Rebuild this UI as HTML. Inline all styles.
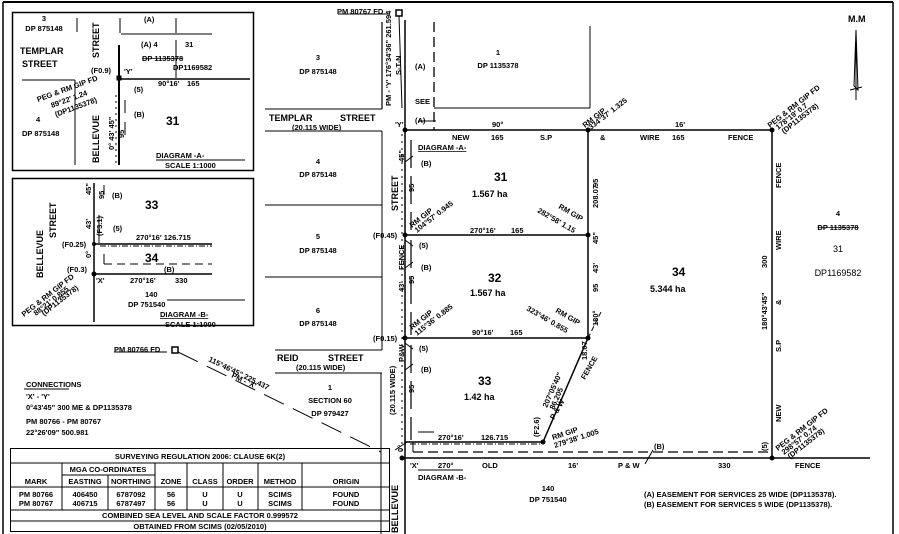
<!DOCTYPE html>
<html><head><meta charset="utf-8"><style>
body{margin:0;background:#fff}
svg{display:block}
text{font-family:"Liberation Sans",sans-serif;font-weight:bold;fill:#000}
.s{font-size:7.5px}
.m{font-size:9px}
.l{font-size:12px}
</style></head><body>
<svg width="899" height="534" viewBox="0 0 899 534" xmlns="http://www.w3.org/2000/svg">
<g stroke="#000" fill="none">
<line x1="3" y1="2" x2="893" y2="2" stroke-width="2"/>
<line x1="3" y1="2" x2="3" y2="534" stroke-width="1.5"/>
<line x1="893" y1="2" x2="893" y2="534" stroke-width="1.5"/>
<rect x="12.5" y="12.5" width="241" height="158" stroke-width="1.5"/>
<line x1="77" y1="18" x2="77" y2="32"/>
<line x1="22" y1="80" x2="75" y2="80"/>
<line x1="75" y1="80" x2="75" y2="165"/>
<line x1="120" y1="18" x2="120" y2="33"/>
<line x1="119" y1="45" x2="119" y2="165" stroke-width="2"/>
<line x1="121" y1="34" x2="212" y2="34"/>
<line x1="176" y1="18" x2="176" y2="33"/>
<line x1="176" y1="40" x2="176" y2="78"/>
<line x1="119" y1="79" x2="250" y2="79" stroke-width="1.5"/>
<line x1="125" y1="100" x2="125" y2="113"/>
<line x1="125" y1="122" x2="125" y2="135"/>
<line x1="116" y1="95" x2="116" y2="165" stroke-dasharray="2 4"/>
<rect x="117" y="76" width="4" height="4" fill="#000"/>
<rect x="12.5" y="178.5" width="241" height="147" stroke-width="1.5"/>
<line x1="94" y1="183" x2="94" y2="322" stroke-width="1.5"/>
<line x1="94" y1="244" x2="212" y2="244" stroke-width="1.5"/>
<line x1="100" y1="246" x2="212" y2="246" stroke-dasharray="6 2 1 2"/>
<line x1="94" y1="274" x2="212" y2="274" stroke-width="1.5"/>
<line x1="104" y1="264" x2="212" y2="264" stroke-dasharray="8 5"/>
<line x1="104" y1="254" x2="104" y2="264"/>
<line x1="104" y1="185" x2="104" y2="195"/>
<line x1="99" y1="215" x2="99" y2="243"/>
<circle cx="94" cy="274" r="2" fill="#000"/>
<circle cx="94" cy="244" r="1.5"/>
<line x1="382" y1="22" x2="382" y2="109" stroke-width="1.2"/>
<line x1="265" y1="109" x2="382" y2="109"/>
<line x1="265" y1="131" x2="382" y2="131"/>
<line x1="382" y1="131" x2="382" y2="350"/>
<line x1="265" y1="205" x2="382" y2="205"/>
<line x1="265" y1="277" x2="382" y2="277"/>
<line x1="275" y1="350" x2="382" y2="350"/>
<line x1="275" y1="373" x2="382" y2="373"/>
<line x1="381" y1="373" x2="381" y2="534"/>
<line x1="405" y1="20" x2="405" y2="534" stroke-width="1.5"/>
<line x1="402" y1="134" x2="402" y2="457" stroke-dasharray="2 5"/>
<line x1="434" y1="22" x2="434" y2="130" stroke-dasharray="10 5" stroke-width="1.3"/>
<line x1="434" y1="108" x2="590" y2="108"/>
<line x1="590" y1="26" x2="590" y2="108"/>
<line x1="405" y1="130" x2="772" y2="130" stroke-width="1.5"/>
<line x1="405" y1="235" x2="588" y2="235" stroke-width="1.5"/>
<line x1="405" y1="338" x2="588" y2="338" stroke-width="1.5"/>
<line x1="588" y1="130" x2="588" y2="338" stroke-width="1.5"/>
<line x1="588" y1="338" x2="543" y2="442" stroke-width="1.5"/>
<line x1="588" y1="338" x2="601" y2="312" stroke-dasharray="5 3"/>
<line x1="405" y1="442" x2="543" y2="442" stroke-width="1.5"/>
<line x1="410" y1="444" x2="540" y2="444" stroke-dasharray="6 2 1 2"/>
<line x1="772" y1="130" x2="772" y2="458" stroke-width="1.5"/>
<line x1="405" y1="458" x2="870" y2="458" stroke-width="1.5"/>
<line x1="413" y1="452" x2="768" y2="452" stroke-dasharray="10 5" stroke-width="1.2"/>
<line x1="413" y1="442" x2="413" y2="452"/>
<line x1="411" y1="140" x2="411" y2="230" stroke-dasharray="28 8" stroke-width="1.2"/>
<line x1="411" y1="240" x2="411" y2="335" stroke-dasharray="28 8" stroke-width="1.2"/>
<line x1="411" y1="345" x2="411" y2="440" stroke-dasharray="28 8" stroke-width="1.2"/>
<path d="M405 162 l8 -6 M405 268 l8 -6 M405 370 l8 -6 M405 240 l8 6 M405 343 l8 6 M645 464 l8 -14 M395 450 l12 -8"/>
<g fill="#000">
<circle cx="405" cy="130" r="2"/><circle cx="588" cy="130" r="2"/><circle cx="772" cy="130" r="2"/>
<circle cx="405" cy="235" r="2"/><circle cx="588" cy="235" r="2"/>
<circle cx="405" cy="338" r="2"/><circle cx="588" cy="338" r="2"/>
<circle cx="543" cy="442" r="2"/><circle cx="402" cy="458" r="2"/><circle cx="772" cy="458" r="2"/>
</g>
<rect x="396" y="10" width="6" height="6" stroke-width="1.5"/>
<rect x="172" y="347" width="6" height="6" stroke-width="1.5"/>
<line x1="178" y1="352" x2="381" y2="452" stroke-dasharray="22 10"/>
<line x1="399" y1="16" x2="402" y2="108"/>
<path d="M856 30 L858 90 L854 86 Z M856 30 V100 M850 90 l12 -3"/>
<rect x="10.5" y="448.5" width="379" height="83"/>
<line x1="10" y1="463" x2="390" y2="463"/>
<line x1="10" y1="487" x2="390" y2="487"/>
<line x1="10" y1="510" x2="390" y2="510"/>
<line x1="10" y1="521" x2="390" y2="521"/>
<line x1="62" y1="463" x2="62" y2="510"/>
<line x1="62" y1="475" x2="155" y2="475"/>
<line x1="108" y1="475" x2="108" y2="510"/>
<line x1="155" y1="463" x2="155" y2="510"/>
<line x1="187" y1="463" x2="187" y2="510"/>
<line x1="223" y1="463" x2="223" y2="510"/>
<line x1="258" y1="463" x2="258" y2="510"/>
<line x1="302" y1="463" x2="302" y2="510"/>
<path d="M114 352 H167 M338 14 H390 M24 389 H69 M156 160 H245 M167 300 H245 M418 121 H436 M418 432 H434 M418 470 H463"/>
</g>

<text class="s" x="44" y="21" text-anchor="middle">3</text>
<text class="s" x="44" y="31" text-anchor="middle">DP 875148</text>
<text class="m" x="20" y="54">TEMPLAR</text>
<text class="m" x="22" y="67">STREET</text>
<text class="m" transform="translate(99,58) rotate(-90)">STREET</text>
<text class="m" transform="translate(99,163) rotate(-90)">BELLEVUE</text>
<text class="s" x="144" y="22">(A)</text>
<text class="s" x="141" y="47">(A)  4</text>
<text class="s" x="185" y="47">31</text>
<text class="s" x="142" y="61" text-decoration="line-through">DP 1135378</text>
<text class="s" x="173" y="70">DP1169582</text>
<text class="s" x="91" y="73">(F0.9)</text>
<text class="s" x="124" y="74">'Y'</text>
<text class="s" x="158" y="86">90°16'</text><text class="s" x="187" y="86">165</text>
<text class="s" x="134" y="92">(5)</text>
<text class="s" x="134" y="117">(B)</text>
<text class="l" x="166" y="125">31</text>
<text class="s" transform="translate(38,102) rotate(-20)">PEG &amp; RM GIP FD</text>
<text class="s" transform="translate(52,108) rotate(-20)">89°22' 1.24</text>
<text class="s" transform="translate(56,117) rotate(-20)">(DP1135378)</text>
<text class="s" x="36" y="122">4</text>
<text class="s" x="22" y="136">DP 875148</text>
<text class="s" transform="translate(114,150) rotate(-90)">0° 43' 45"</text>
<text class="s" transform="translate(124,138) rotate(-90)">95</text>
<text class="s" x="156" y="158">DIAGRAM -A-</text>
<text class="s" x="165" y="168">SCALE 1:1000</text>
<text class="m" transform="translate(43,278) rotate(-90)">BELLEVUE</text>
<text class="m" transform="translate(56,238) rotate(-90)">STREET</text>
<text class="s" transform="translate(91,195) rotate(-90)">45"</text>
<text class="s" transform="translate(91,229) rotate(-90)">43'</text>
<text class="s" transform="translate(91,258) rotate(-90)">0°</text>
<text class="s" transform="translate(104,199) rotate(-90)">95</text>
<text class="s" transform="translate(102,236) rotate(-90)">(F3.1)</text>
<text class="s" x="112" y="198">(B)</text>
<text class="s" x="113" y="231">(5)</text>
<text class="l" x="145" y="209">33</text>
<text class="l" x="145" y="262">34</text>
<text class="s" x="136" y="240">270°16'  126.715</text>
<text class="s" x="62" y="247">(F0.25)</text>
<text class="s" x="67" y="272">(F0.3)</text>
<text class="s" x="164" y="272">(B)</text>
<text class="s" x="96" y="283">'X'</text>
<text class="s" x="130" y="283">270°16'</text><text class="s" x="175" y="283">330</text>
<text class="s" x="145" y="297">140</text>
<text class="s" x="128" y="307">DP 751540</text>
<text class="s" transform="translate(24,317) rotate(-38)">PEG &amp; RM GIP FD</text>
<text class="s" transform="translate(36,316) rotate(-38)">88°21' 0.855</text>
<text class="s" transform="translate(44,316) rotate(-38)">(DP1135378)</text>
<text class="s" x="160" y="317" text-decoration="underline">DIAGRAM -B-</text>
<text class="s" x="165" y="327">SCALE 1:1000</text>

<text class="s" x="114" y="352">PM 80766 FD</text>
<text class="s" x="26" y="387">CONNECTIONS</text>
<text class="s" x="26" y="399">'X' - 'Y'</text>
<text class="s" x="26" y="410">0°43'45" 300 ME &amp; DP1135378</text>
<text class="s" x="26" y="424">PM 80766 - PM 80767</text>
<text class="s" x="26" y="435">22°26'09" 500.981</text>
<text class="s" transform="translate(208,361) rotate(26)">115°46'45"   225.437</text>
<text class="s" transform="translate(231,377) rotate(26)">PM - 'X'</text>
<text class="s" x="200" y="459" text-anchor="middle">SURVEYING REGULATION 2006: CLAUSE 6K(2)</text>
<text class="s" x="108" y="472" text-anchor="middle">MGA CO-ORDINATES</text>
<text class="s" x="36" y="484" text-anchor="middle">MARK</text>
<text class="s" x="85" y="484" text-anchor="middle">EASTING</text>
<text class="s" x="131" y="484" text-anchor="middle">NORTHING</text>
<text class="s" x="171" y="484" text-anchor="middle">ZONE</text>
<text class="s" x="205" y="484" text-anchor="middle">CLASS</text>
<text class="s" x="240" y="484" text-anchor="middle">ORDER</text>
<text class="s" x="280" y="484" text-anchor="middle">METHOD</text>
<text class="s" x="346" y="484" text-anchor="middle">ORIGIN</text>
<text class="s" x="36" y="497" text-anchor="middle">PM 80766</text><text class="s" x="36" y="506" text-anchor="middle">PM 80767</text>
<text class="s" x="85" y="497" text-anchor="middle">406450</text><text class="s" x="85" y="506" text-anchor="middle">406715</text>
<text class="s" x="131" y="497" text-anchor="middle">6787092</text><text class="s" x="131" y="506" text-anchor="middle">6787497</text>
<text class="s" x="171" y="497" text-anchor="middle">56</text><text class="s" x="171" y="506" text-anchor="middle">56</text>
<text class="s" x="205" y="497" text-anchor="middle">U</text><text class="s" x="205" y="506" text-anchor="middle">U</text>
<text class="s" x="240" y="497" text-anchor="middle">U</text><text class="s" x="240" y="506" text-anchor="middle">U</text>
<text class="s" x="280" y="497" text-anchor="middle">SCIMS</text><text class="s" x="280" y="506" text-anchor="middle">SCIMS</text>
<text class="s" x="346" y="497" text-anchor="middle">FOUND</text><text class="s" x="346" y="506" text-anchor="middle">FOUND</text>
<text class="s" x="200" y="518" text-anchor="middle">COMBINED SEA LEVEL AND SCALE FACTOR 0.999572</text>
<text class="s" x="200" y="529" text-anchor="middle">OBTAINED FROM SCIMS    (02/05/2010)</text>

<text class="s" x="318" y="60" text-anchor="middle">3</text>
<text class="s" x="318" y="74" text-anchor="middle">DP 875148</text>
<text class="m" x="269" y="121">TEMPLAR</text><text class="m" x="340" y="121">STREET</text>
<text class="s" x="292" y="130">(20.115 WIDE)</text>
<text class="s" x="318" y="164" text-anchor="middle">4</text>
<text class="s" x="318" y="177" text-anchor="middle">DP 875148</text>
<text class="s" x="318" y="239" text-anchor="middle">5</text>
<text class="s" x="318" y="253" text-anchor="middle">DP 875148</text>
<text class="s" x="318" y="313" text-anchor="middle">6</text>
<text class="s" x="318" y="326" text-anchor="middle">DP 875148</text>
<text class="m" x="277" y="361">REID</text><text class="m" x="328" y="361">STREET</text>
<text class="s" x="296" y="370">(20.115 WIDE)</text>
<text class="s" x="330" y="390" text-anchor="middle">1</text>
<text class="s" x="330" y="403" text-anchor="middle">SECTION 60</text>
<text class="s" x="330" y="416" text-anchor="middle">DP 979427</text>
<text class="m" transform="translate(398,211) rotate(-90)">STREET</text>
<text class="m" transform="translate(398,533) rotate(-90)">BELLEVUE</text>
<text class="s" transform="translate(395,415) rotate(-90)">(20.115 WIDE)</text>
<text class="s" x="337" y="14">PM 80767 FD</text>
<text class="s" transform="translate(391,106) rotate(-90)">PM - 'Y'  176°34'36"  261.594</text>
<text class="s" transform="translate(401,75) rotate(-90)">S-T-N</text>
<text class="s" x="415" y="69">(A)</text>
<text class="s" x="415" y="104">SEE</text>
<text class="s" x="415" y="123">(A)</text>
<text class="s" x="395" y="127">'Y'</text>
<text class="s" x="498" y="55" text-anchor="middle">1</text>
<text class="s" x="498" y="68" text-anchor="middle">DP 1135378</text>
<text class="s" x="492" y="127">90°</text>
<text class="s" x="452" y="140">NEW</text><text class="s" x="491" y="140">165</text><text class="s" x="540" y="140">S.P</text>
<text class="s" x="600" y="140">&amp;</text><text class="s" x="640" y="140">WIRE</text><text class="s" x="672" y="140">165</text><text class="s" x="728" y="140">FENCE</text>
<text class="s" x="675" y="127">16'</text>
<text class="s" x="418" y="150" text-decoration="underline">DIAGRAM -A-</text>
<text class="s" x="421" y="166">(B)</text>
<text class="s" x="421" y="270">(B)</text>
<text class="s" x="421" y="372">(B)</text>
<text class="s" x="419" y="248">(5)</text>
<text class="s" x="419" y="351">(5)</text>
<text class="s" transform="translate(404,162) rotate(-90)">45"</text>
<text class="s" transform="translate(404,292) rotate(-90)">43'</text>
<text class="s" transform="translate(404,270) rotate(-90)">FENCE</text>
<text class="s" transform="translate(404,362) rotate(-90)">P&amp;W</text>
<text class="s" transform="translate(403,452) rotate(-90)">0°</text>
<text class="s" transform="translate(414,192) rotate(-90)">95</text>
<text class="s" transform="translate(414,284) rotate(-90)">95</text>
<text class="s" transform="translate(414,393) rotate(-90)">95</text>
<text class="s" x="373" y="238">(F0.45)</text>
<text class="s" x="373" y="341">(F0.15)</text>
<text class="l" x="494" y="181">31</text>
<text class="m" x="472" y="197">1.567  ha</text>
<text class="l" x="488" y="282">32</text>
<text class="m" x="470" y="296">1.567  ha</text>
<text class="l" x="478" y="385">33</text>
<text class="m" x="464" y="400">1.42  ha</text>
<text class="l" x="672" y="276">34</text>
<text class="m" x="650" y="292">5.344  ha</text>
<text class="s" x="470" y="233">270°16'</text><text class="s" x="511" y="233">165</text>
<text class="s" x="472" y="335">90°16'</text><text class="s" x="510" y="335">165</text>
<text class="s" x="438" y="440">270°16'</text><text class="s" x="481" y="440">126.715</text>
<text class="s" transform="translate(412,228) rotate(-38)">RM GIP</text>
<text class="s" transform="translate(417,233) rotate(-38)">104°57' 0.945</text>
<text class="s" transform="translate(412,330) rotate(-38)">RM GIP</text>
<text class="s" transform="translate(417,336) rotate(-38)">115°36' 0.885</text>
<text class="s" transform="translate(558,208) rotate(30)">RM GIP</text>
<text class="s" transform="translate(537,212) rotate(30)">282°58' 1.15</text>
<text class="s" transform="translate(555,312) rotate(30)">RM GIP</text>
<text class="s" transform="translate(526,310) rotate(30)">323°46' 0.855</text>
<text class="s" transform="translate(585,128) rotate(-38)">RM GIP</text>
<text class="s" transform="translate(591,130) rotate(-38)">334°37' 1.325</text>
<text class="s" transform="translate(598,187) rotate(-90)">95</text>
<text class="s" transform="translate(598,292) rotate(-90)">95</text>
<text class="s" transform="translate(598,208) rotate(-90)">208.07</text>
<text class="s" transform="translate(598,244) rotate(-90)">45"</text>
<text class="s" transform="translate(598,273) rotate(-90)">43'</text>
<text class="s" transform="translate(598,326) rotate(-90)">180°</text>
<text class="s" transform="translate(587,360) rotate(-90)">18.07</text>
<text class="s" transform="translate(585,380) rotate(-60)">FENCE</text>
<text class="s" transform="translate(554,420) rotate(-60)">P &amp; W</text>
<text class="s" transform="translate(547,408) rotate(-66)">207°05'40"</text>
<text class="s" transform="translate(554,410) rotate(-66)">86.205</text>
<text class="s" transform="translate(539,437) rotate(-90)">(F2.6)</text>
<text class="s" transform="translate(553,440) rotate(-18)">RM GIP</text>
<text class="s" transform="translate(555,448) rotate(-18)">279°38' 1.005</text>
<text class="s" x="654" y="449">(B)</text>
<text class="s" x="410" y="468">'X'</text><text class="s" x="438" y="468">270°</text><text class="s" x="482" y="468">OLD</text>
<text class="s" x="568" y="468">16'</text><text class="s" x="618" y="468">P &amp; W</text><text class="s" x="718" y="468">330</text><text class="s" x="795" y="468">FENCE</text>
<text class="s" x="418" y="480">DIAGRAM -B-</text>
<text class="s" x="548" y="491" text-anchor="middle">140</text>
<text class="s" x="548" y="502" text-anchor="middle">DP 751540</text>
<text class="s" x="644" y="497">(A) EASEMENT FOR SERVICES 25 WIDE (DP1135378).</text>
<text class="s" x="644" y="507">(B) EASEMENT FOR SERVICES 5 WIDE (DP1135378).</text>
<text class="s" transform="translate(770,128) rotate(-38)">PEG &amp; RM GIP FD</text>
<text class="s" transform="translate(778,130) rotate(-38)">178°19' 0.7</text>
<text class="s" transform="translate(784,134) rotate(-38)">(DP1135378)</text>
<text class="s" transform="translate(778,451) rotate(-38)">PEG &amp; RM GIP FD</text>
<text class="s" transform="translate(784,455) rotate(-38)">298°57' 0.74</text>
<text class="s" transform="translate(790,459) rotate(-38)">(DP1135378)</text>
<text class="s" transform="translate(781,188) rotate(-90)">FENCE</text>
<text class="s" transform="translate(781,250) rotate(-90)">WIRE</text>
<text class="s" transform="translate(781,305) rotate(-90)">&amp;</text>
<text class="s" transform="translate(781,352) rotate(-90)">S.P</text>
<text class="s" transform="translate(781,422) rotate(-90)">NEW</text>
<text class="s" transform="translate(767,268) rotate(-90)">300</text>
<text class="s" transform="translate(767,330) rotate(-90)">180°43'45"</text>
<text class="s" transform="translate(767,451) rotate(-90)">(5)</text>
<text class="s" x="838" y="216" text-anchor="middle">4</text>
<text class="s" x="838" y="230" text-anchor="middle" text-decoration="line-through">DP 1135378</text>
<text class="m" x="838" y="252" text-anchor="middle" style="font-weight:normal">31</text>
<text class="m" x="838" y="276" text-anchor="middle" style="font-weight:normal">DP1169582</text>
<text class="m" x="848" y="22">M.M</text>
</svg>
</body></html>
